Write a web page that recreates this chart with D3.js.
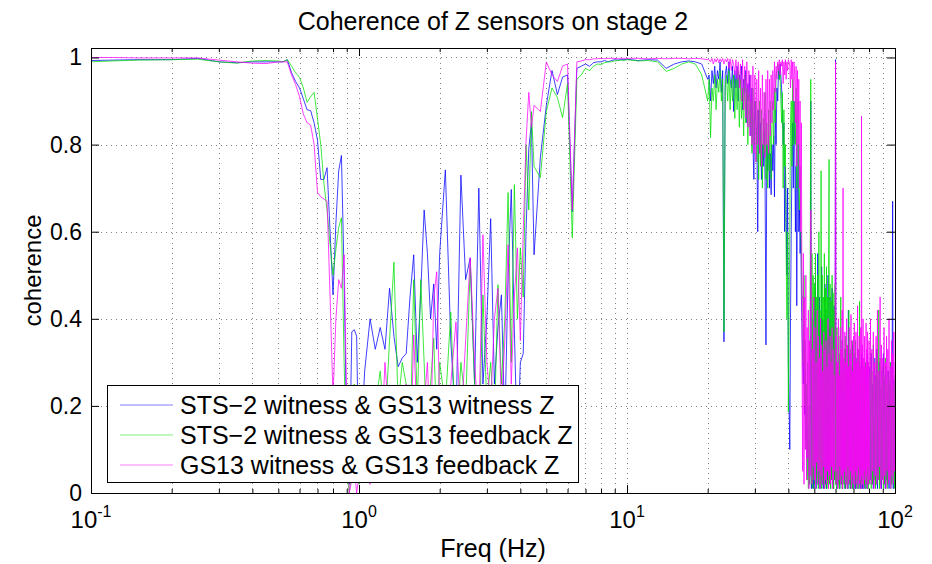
<!DOCTYPE html>
<html>
<head>
<meta charset="utf-8">
<script src="https://cdn.jsdelivr.net/npm/d3@7"></script>
<style>
  body { margin: 0; background: #fff; }
  svg { display: block; font-family: "Liberation Sans", Arial, Helvetica, sans-serif; }
</style>
</head>
<body>
<svg width="932" height="564"></svg>
<script>
  // frequency bins (Hz), shared by the three coherence curves
  const freq = [
    0.1, 0.12, 0.15, 0.2, 0.25, 0.3, 0.35, 0.4, 0.45, 0.5,
    0.52, 0.54, 0.56, 0.58, 0.6, 0.62, 0.64, 0.66, 0.68, 0.7, 0.72, 0.74, 0.76, 0.78, 0.8,
    0.82, 0.84, 0.86, 0.88, 0.9, 0.92, 0.94, 0.96, 0.98, 1,
    1.05, 1.1, 1.15, 1.2, 1.25, 1.3, 1.35, 1.4, 1.45, 1.5, 1.55, 1.6, 1.65, 1.7, 1.75, 1.8, 1.85, 1.9, 1.95, 2,
    2.1, 2.2, 2.3, 2.4, 2.5, 2.6, 2.7, 2.8, 2.9, 3, 3.1, 3.2, 3.3, 3.4, 3.5, 3.6, 3.7, 3.8, 3.9, 4,
    4.1, 4.2, 4.3, 4.4, 4.5,
    4.75, 5, 5.25, 5.5, 5.75, 6, 6.25, 6.5, 6.75, 7, 7.25, 7.5, 7.75, 8, 8.25, 8.5, 8.75, 9, 9.25, 9.5, 9.75, 10,
    11, 12, 13, 14, 15, 16, 17, 18, 19, 20,
    20.25, 20.5, 20.75, 21, 21.25, 21.5, 21.75, 22, 22.25, 22.5, 22.75, 23, 23.25, 23.5, 23.75, 24, 24.25, 24.5, 24.75, 25,
    25.25, 25.5, 25.75, 26, 26.25, 26.5, 26.75, 27, 27.25, 27.5, 27.75, 28, 28.25, 28.5, 28.75, 29, 29.25, 29.5, 29.75, 30,
    30.25, 30.5, 30.75, 31, 31.25, 31.5, 31.75, 32, 32.25, 32.5, 32.75, 33, 33.25, 33.5, 33.75, 34, 34.25, 34.5, 34.75, 35,
    35.25, 35.5, 35.75, 36, 36.25, 36.5, 36.75, 37, 37.25, 37.5, 37.75, 38, 38.25, 38.5, 38.75, 39, 39.25, 39.5, 39.75, 40,
    40.25, 40.5, 40.75, 41, 41.25, 41.5, 41.75, 42, 42.25, 42.5, 42.75, 43, 43.25, 43.5, 43.75, 44, 44.25, 44.5, 44.75, 45,
    45.25, 45.5, 45.75, 46, 46.25, 46.5, 46.75, 47, 47.25, 47.5, 47.75, 48, 48.25, 48.5, 48.75, 49, 49.25, 49.5, 49.75, 50,
    50.25, 50.5, 50.75, 51, 51.25, 51.5, 51.75, 52, 52.25, 52.5, 52.75, 53, 53.25, 53.5, 53.75, 54, 54.25, 54.5, 54.75, 55,
    55.25, 55.5, 55.75, 56, 56.25, 56.5, 56.75, 57, 57.25, 57.5, 57.75, 58, 58.25, 58.5, 58.75, 59, 59.25, 59.5, 59.75, 60,
    60.25, 60.5, 60.75, 61, 61.25, 61.5, 61.75, 62, 62.25, 62.5, 62.75, 63, 63.25, 63.5, 63.75, 64, 64.25, 64.5, 64.75, 65,
    65.25, 65.5, 65.75, 66, 66.25, 66.5, 66.75, 67, 67.25, 67.5, 67.75, 68, 68.25, 68.5, 68.75, 69, 69.25, 69.5, 69.75, 70,
    70.25, 70.5, 70.75, 71, 71.25, 71.5, 71.75, 72, 72.25, 72.5, 72.75, 73, 73.25, 73.5, 73.75, 74, 74.25, 74.5, 74.75, 75,
    75.25, 75.5, 75.75, 76, 76.25, 76.5, 76.75, 77, 77.25, 77.5, 77.75, 78, 78.25, 78.5, 78.75, 79, 79.25, 79.5, 79.75, 80,
    80.5, 81, 81.5, 82, 82.5, 83, 83.5, 84, 84.5, 85, 85.5, 86, 86.5, 87, 87.5, 88, 88.5, 89, 89.5, 90,
    90.5, 91, 91.5, 92, 92.5, 93, 93.5, 94, 94.5, 95, 95.5, 96, 96.5, 97, 97.5, 98, 98.5, 99, 99.5, 100
  ];

  // STS-2 witness & GS13 witness Z
  const stsWitness = [
    0.993, 0.994, 0.995, 0.995, 0.998, 0.99, 0.988, 0.99, 0.99, 0.99,
    0.99, 0.995, 0.965, 0.945, 0.93, 0.905, 0.88, 0.878, 0.85, 0.81, 0.72, 0.72, 0.747, 0.6, 0.455,
    0.62, 0.74, 0.775, 0.5, 0.12, 0.02, 0.37, 0.375, 0.36, 0.03,
    0.28, 0.4, 0.33, 0.38, 0.33, 0.47, 0.36, 0.29, 0.31, 0.32, 0.45, 0.547, 0.3, 0.46, 0.65, 0.55, 0.4, 0.48, 0.33, 0.55,
    0.742, 0.35, 0.15, 0.73, 0.49, 0.54, 0.25, 0.7, 0.25, 0.4, 0.63, 0.25, 0.38, 0.455, 0.15, 0.5, 0.697, 0.37, 0.1, 0.3,
    0.32, 0.6, 0.79, 0.85, 0.547,
    0.77, 0.89, 0.97, 0.915, 0.955, 0.96, 0.646, 0.975, 0.98, 0.985, 0.98, 0.988, 0.99, 0.99, 0.993, 0.99, 0.993, 0.995, 0.994, 0.995, 0.995, 0.996,
    0.993, 0.995, 0.994, 0.975, 0.985, 0.99, 0.992, 0.99, 0.985, 0.95,
    0.96, 0.9, 0.97, 0.94, 0.98, 0.93, 0.97, 0.95, 0.99, 0.92, 0.97, 0.347, 0.96, 0.98, 0.94, 0.99, 0.95, 0.93, 0.98, 0.876,
    0.97, 0.93, 0.98, 0.9, 0.96, 0.94, 0.98, 0.88, 0.95, 0.92, 0.97, 0.85, 0.94, 0.9, 0.96, 0.82, 0.93, 0.8, 0.72, 0.9,
    0.85, 0.82, 0.6, 0.88, 0.78, 0.85, 0.72, 0.8, 0.75, 0.83, 0.72, 0.34, 0.8, 0.74, 0.82, 0.7, 0.78, 0.685, 0.8, 0.74,
    0.82, 0.68, 0.88, 0.8, 0.93, 0.9, 0.97, 0.95, 0.985, 0.96, 0.93, 0.88, 0.8, 0.85, 0.6, 0.75, 0.65, 0.5, 0.7, 0.3,
    0.2, 0.1, 0.4, 0.6, 0.75, 0.85, 0.7, 0.9, 0.8, 0.6, 0.75, 0.43, 0.7, 0.8, 0.6, 0.65, 0.55, 0.6, 0.45, 0.37,
    0.3, 0.25, 0.35, 0.18, 0.28, 0.12, 0.22, 0.08, 0.15, 0.04, 0.1, 0.02, 0.06, 0.9, 0.01, 0.3, 0.02, 0.4, 0.01, 0.45,
    0.02, 0.5, 0.01, 0.35, 0.04, 0.55, 0.02, 0.3, 0.45, 0.01, 0.38, 0.03, 0.52, 0.02, 0.4, 0.01, 0.33, 0.05, 0.48, 0.02,
    0.42, 0.01, 0.35, 0.03, 0.5, 0.02, 0.38, 0.04, 0.45, 0.01, 0.32, 0.03, 0.47, 0.02, 0.36, 0.01, 0.43, 0.03, 0.3, 0.995,
    0.02, 0.32, 0.01, 0.26, 0.03, 0.34, 0.02, 0.28, 0.01, 0.3, 0.03, 0.25, 0.02, 0.35, 0.01, 0.27, 0.04, 0.31, 0.02, 0.28,
    0.01, 0.33, 0.03, 0.26, 0.02, 0.3, 0.01, 0.42, 0.03, 0.27, 0.02, 0.32, 0.01, 0.25, 0.03, 0.29, 0.02, 0.34, 0.01, 0.28,
    0.03, 0.32, 0.02, 0.25, 0.01, 0.31, 0.03, 0.27, 0.02, 0.33, 0.01, 0.26, 0.03, 0.3, 0.02, 0.24, 0.01, 0.28, 0.03, 0.32,
    0.02, 0.26, 0.01, 0.29, 0.03, 0.23, 0.02, 0.28, 0.01, 0.25, 0.03, 0.3, 0.02, 0.27, 0.01, 0.32, 0.03, 0.26, 0.02, 0.29,
    0.28, 0.03, 0.32, 0.02, 0.25, 0.01, 0.31, 0.03, 0.27, 0.02, 0.33, 0.01, 0.26, 0.03, 0.3, 0.02, 0.24, 0.01, 0.28, 0.03,
    0.32, 0.02, 0.26, 0.01, 0.29, 0.03, 0.23, 0.02, 0.28, 0.01, 0.25, 0.03, 0.3, 0.02, 0.23, 0.67, 0.01, 0.26, 0.02, 0.21
  ];

  // STS-2 witness & GS13 feedback Z
  const stsFeedback = [
    0.99, 0.992, 0.994, 0.995, 0.996, 0.99, 0.987, 0.992, 0.993, 0.992,
    0.99, 0.995, 0.98, 0.965, 0.954, 0.93, 0.897, 0.91, 0.92, 0.86, 0.8, 0.71, 0.65, 0.57, 0.5,
    0.56, 0.61, 0.632, 0.3, 0.05, 0, 0.05, 0.25, 0.1, 0.02,
    0.1, 0.05, 0.2, 0.28, 0.15, 0.35, 0.53, 0.2, 0.3, 0.25, 0.1, 0.49, 0.2, 0.49, 0.3, 0.1, 0.25, 0.356, 0.15, 0.3,
    0.2, 0.415, 0.1, 0.3, 0.2, 0.524, 0.25, 0.1, 0.455, 0.2, 0.3, 0.15, 0.478, 0.25, 0.4, 0.69, 0.3, 0.708, 0.4, 0.563,
    0.45, 0.8, 0.65, 0.876, 0.75,
    0.724, 0.876, 0.93, 0.908, 0.862, 0.94, 0.586, 0.95, 0.96, 0.975, 0.97, 0.98, 0.985, 0.984, 0.988, 0.99, 0.99, 0.992, 0.993, 0.994, 0.993, 0.995,
    0.992, 0.993, 0.99, 0.968, 0.975, 0.985, 0.99, 0.985, 0.96, 0.9,
    0.95, 0.816, 0.93, 0.9, 0.96, 0.88, 0.95, 0.92, 0.97, 0.9, 0.95, 0.37, 0.93, 0.96, 0.9, 0.97, 0.88, 0.95, 0.9, 0.96,
    0.86, 0.95, 0.88, 0.97, 0.84, 0.95, 0.86, 0.93, 0.82, 0.96, 0.85, 0.93, 0.8, 0.92, 0.84, 0.9, 0.78, 0.93, 0.8, 0.88,
    0.9, 0.76, 0.88, 0.72, 0.9, 0.75, 0.88, 0.7, 0.86, 0.78, 0.92, 0.72, 0.85, 0.7, 0.88, 0.74, 0.9, 0.72, 0.86, 0.9,
    0.8, 0.93, 0.85, 0.96, 0.97, 0.985, 0.98, 0.95, 0.96, 0.9, 0.85, 0.92, 0.7, 0.88, 0.75, 0.8, 0.55, 0.4, 0.6, 0.186,
    0.4, 0.6, 0.85, 0.9, 0.75, 0.95, 0.8, 0.9, 0.85, 0.8, 0.93, 0.7, 0.85, 0.9, 0.7, 0.65, 0.75, 0.6, 0.55, 0.45,
    0.45, 0.3, 0.5, 0.2, 0.35, 0.1, 0.25, 0.03, 0.3, 0.01, 0.2, 0.02, 0.5, 0.95, 0.02, 0.55, 0.01, 0.5, 0.03, 0.48,
    0.01, 0.55, 0.03, 0.45, 0.02, 0.5, 0.01, 0.6, 0.03, 0.42, 0.02, 0.74, 0.01, 0.5, 0.03, 0.45, 0.02, 0.55, 0.01, 0.47,
    0.03, 0.52, 0.01, 0.45, 0.02, 0.5, 0.766, 0.02, 0.48, 0.01, 0.44, 0.03, 0.5, 0.02, 0.46, 0.01, 0.42, 0.03, 0.48, 0.02,
    0.34, 0.01, 0.38, 0.03, 0.3, 0.02, 0.36, 0.01, 0.32, 0.03, 0.45, 0.02, 0.28, 0.01, 0.35, 0.03, 0.31, 0.02, 0.33, 0.01,
    0.36, 0.03, 0.28, 0.02, 0.34, 0.01, 0.31, 0.03, 0.42, 0.02, 0.29, 0.01, 0.33, 0.03, 0.27, 0.02, 0.35, 0.01, 0.3, 0.03,
    0.32, 0.01, 0.28, 0.02, 0.35, 0.03, 0.26, 0.01, 0.31, 0.02, 0.33, 0.03, 0.28, 0.01, 0.44, 0.02, 0.25, 0.03, 0.29, 0.01,
    0.27, 0.02, 0.31, 0.03, 0.25, 0.01, 0.29, 0.02, 0.26, 0.03, 0.3, 0.01, 0.24, 0.02, 0.28, 0.03, 0.26, 0.01, 0.27, 0.02,
    0.03, 0.32, 0.01, 0.28, 0.02, 0.34, 0.03, 0.26, 0.01, 0.31, 0.02, 0.33, 0.03, 0.42, 0.01, 0.31, 0.02, 0.25, 0.03, 0.29,
    0.01, 0.27, 0.02, 0.31, 0.03, 0.25, 0.01, 0.28, 0.02, 0.26, 0.03, 0.3, 0.01, 0.24, 0.02, 0.28, 0.03, 0.25, 0.01, 0.27
  ];

  // GS13 witness & GS13 feedback Z
  const gsFeedback = [
    1, 1, 0.999, 0.999, 0.999, 0.994, 0.99, 0.987, 0.986, 0.99,
    0.99, 0.99, 0.96, 0.938, 0.91, 0.87, 0.85, 0.845, 0.8, 0.69, 0.68, 0.675, 0.67, 0.45, 0.22,
    0.4, 0.49, 0.47, 0.547, 0.2, 0, 0.03, 0.06, 0, 0.04,
    0.05, 0.02, 0.1, 0.05, 0.3, 0.15, 0.05, 0.2, 0.1, 0.25, 0.05, 0.363, 0.15, 0.05, 0.2, 0.3, 0.1, 0.45, 0.508, 0.2,
    0.1, 0.25, 0.393, 0.15, 0.35, 0.54, 0.3, 0.15, 0.593, 0.3, 0.2, 0.4, 0.47, 0.2, 0.35, 0.57, 0.25, 0.45, 0.563, 0.35,
    0.6, 0.807, 0.92, 0.84, 0.89,
    0.876, 0.99, 0.96, 0.945, 0.98, 0.985, 0.65, 0.99, 0.992, 0.995, 0.995, 0.997, 0.997, 0.998, 0.997, 0.998, 0.998, 0.998, 0.997, 0.998, 0.998, 0.998,
    0.998, 0.997, 0.998, 0.997, 0.998, 0.998, 0.997, 0.998, 0.997, 0.995,
    0.995, 0.99, 0.998, 0.985, 0.997, 0.99, 0.998, 0.988, 0.997, 0.99, 0.998, 0.985, 0.996, 0.99, 0.998, 0.975, 0.997, 0.97, 0.995, 0.985,
    0.96, 0.995, 0.95, 0.99, 0.93, 0.985, 0.9, 0.995, 0.88, 0.98, 0.86, 0.99, 0.84, 0.97, 0.82, 0.96, 0.8, 0.98, 0.78, 0.96,
    0.76, 0.95, 0.8, 0.97, 0.78, 0.93, 0.75, 0.96, 0.8, 0.92, 0.77, 0.95, 0.8, 0.97, 0.78, 0.95, 0.82, 0.96, 0.85, 0.97,
    0.88, 0.99, 0.92, 0.98, 0.95, 0.99, 0.97, 0.995, 0.96, 0.99, 0.98, 0.995, 0.94, 0.99, 0.96, 0.995, 0.95, 0.99, 0.97, 0.995,
    0.99, 0.98, 0.93, 0.995, 0.95, 0.99, 0.9, 0.99, 0.96, 0.85, 0.98, 0.75, 0.97, 0.8, 0.95, 0.7, 0.9, 0.6, 0.85, 0.3,
    0.05, 0.55, 0.02, 0.45, 0.1, 0.5, 0.03, 0.38, 0.08, 0.42, 0.01, 0.35, 0.04, 0.65, 0.4, 0.02, 0.33, 0.06, 0.45, 0.03,
    0.38, 0.01, 0.3, 0.07, 0.42, 0.02, 0.36, 0.05, 0.31, 0.01, 0.4, 0.04, 0.34, 0.02, 0.28, 0.06, 0.37, 0.01, 0.33, 0.03,
    0.35, 0.02, 0.29, 0.05, 0.4, 0.01, 0.32, 0.04, 0.36, 0.02, 0.3, 0.06, 0.38, 0.01, 0.33, 0.03, 0.27, 0.05, 0.35, 0.99,
    0.02, 0.36, 0.05, 0.3, 0.01, 0.4, 0.03, 0.27, 0.06, 0.38, 0.02, 0.33, 0.04, 0.42, 0.01, 0.7, 0.03, 0.31, 0.05, 0.37,
    0.02, 0.3, 0.04, 0.4, 0.01, 0.34, 0.06, 0.29, 0.02, 0.38, 0.03, 0.32, 0.05, 0.41, 0.01, 0.35, 0.04, 0.28, 0.02, 0.36,
    0.03, 0.39, 0.01, 0.31, 0.05, 0.37, 0.02, 0.3, 0.04, 0.43, 0.01, 0.33, 0.06, 0.36, 0.02, 0.29, 0.03, 0.38, 0.01, 0.865,
    0.04, 0.34, 0.02, 0.4, 0.01, 0.31, 0.05, 0.36, 0.03, 0.29, 0.02, 0.39, 0.04, 0.33, 0.01, 0.37, 0.06, 0.3, 0.02, 0.35,
    0.03, 0.4, 0.02, 0.33, 0.05, 0.37, 0.01, 0.3, 0.04, 0.36, 0.02, 0.42, 0.03, 0.28, 0.06, 0.45, 0.01, 0.34, 0.03, 0.31,
    0.02, 0.38, 0.04, 0.3, 0.01, 0.36, 0.05, 0.33, 0.02, 0.4, 0.03, 0.29, 0.01, 0.35, 0.04, 0.32, 0.02, 0.37, 0.05, 0.3
  ];

  const seriesNames = [
    "STS\u22122 witness & GS13 witness Z",
    "STS\u22122 witness & GS13 feedback Z",
    "GS13 witness & GS13 feedback Z"
  ];
  const xDecades = [0.1, 1, 10, 100];
  const xDecadeExponents = ["-1", "0", "1", "2"];
  const yTicks = [0, 0.2, 0.4, 0.6, 0.8, 1];
  const yTickLabels = ["0", "0.2", "0.4", "0.6", "0.8", "1"];

  const colors = ["#0000ff", "#00e000", "#ff00ff"];

  const svg = d3.select("svg");
  const plotLeft = 91;
  const plotRight = 895;
  const plotTop = 48;
  const plotBottom = 493;

  const x = d3.scaleLog().domain([0.1, 100]).range([plotLeft, plotRight]);
  const y = d3.scaleLinear().domain([0, 1.0218]).range([plotBottom, plotTop]);

  // minor log ticks 2..9 inside each decade
  const xMinor = [];
  xDecades.slice(0, 3).forEach(d => {
    for (let k = 2; k <= 9; k++) xMinor.push(d * k);
  });

  svg.append("rect")
    .attr("width", 932)
    .attr("height", 564)
    .attr("fill", "#fff");

  svg.append("defs")
    .append("clipPath")
    .attr("id", "plotClip")
    .append("rect")
    .attr("x", plotLeft)
    .attr("y", plotTop)
    .attr("width", plotRight - plotLeft)
    .attr("height", plotBottom - plotTop);

  // dotted grid
  const grid = svg.append("g")
    .attr("stroke", "#808080")
    .attr("stroke-width", 1)
    .attr("stroke-dasharray", "1,4");
  grid.selectAll("line.vx")
    .data(xMinor.concat([1, 10]))
    .join("line")
    .attr("class", "vx")
    .attr("x1", d => Math.round(x(d)) + 0.5)
    .attr("x2", d => Math.round(x(d)) + 0.5)
    .attr("y1", plotTop)
    .attr("y2", plotBottom);
  grid.selectAll("line.hy")
    .data(yTicks.slice(1))
    .join("line")
    .attr("class", "hy")
    .attr("x1", plotLeft)
    .attr("x2", plotRight)
    .attr("y1", d => Math.round(y(d)) + 0.5)
    .attr("y2", d => Math.round(y(d)) + 0.5);

  // coherence curves: thin opaque lines, magenta drawn last on top
  const line = d3.line()
    .x(d => x(d[0]))
    .y(d => y(d[1]));
  const curves = svg.append("g").attr("clip-path", "url(#plotClip)");
  [stsWitness, stsFeedback, gsFeedback].forEach((vals, i) => {
    curves.append("path")
      .attr("d", line(d3.zip(freq, vals)))
      .attr("fill", "none")
      .attr("stroke", colors[i])
      .attr("stroke-width", 0.75);
  });

  // axes: ticks point inward on all four sides
  const axisG = svg.append("g");
  axisG.append("g")
    .attr("transform", `translate(0,${plotBottom})`)
    .call(d3.axisBottom(x).tickValues(xDecades).tickSizeInner(-8).tickSizeOuter(0).tickFormat(""));
  axisG.append("g")
    .attr("transform", `translate(0,${plotBottom})`)
    .call(d3.axisBottom(x).tickValues(xMinor).tickSizeInner(-4).tickSizeOuter(0).tickFormat(""));
  axisG.append("g")
    .attr("transform", `translate(0,${plotTop})`)
    .call(d3.axisTop(x).tickValues(xDecades).tickSizeInner(-8).tickSizeOuter(0).tickFormat(""));
  axisG.append("g")
    .attr("transform", `translate(0,${plotTop})`)
    .call(d3.axisTop(x).tickValues(xMinor).tickSizeInner(-4).tickSizeOuter(0).tickFormat(""));
  axisG.append("g")
    .attr("transform", `translate(${plotLeft},0)`)
    .call(d3.axisLeft(y).tickValues(yTicks).tickSizeInner(-8).tickSizeOuter(0).tickFormat(""));
  axisG.append("g")
    .attr("transform", `translate(${plotRight},0)`)
    .call(d3.axisRight(y).tickValues(yTicks).tickSizeInner(-8).tickSizeOuter(0).tickFormat(""));
  axisG.selectAll(".domain").remove();
  axisG.selectAll(".tick line").attr("stroke", "#000");

  svg.append("rect")
    .attr("x", plotLeft + 0.5)
    .attr("y", plotTop + 0.5)
    .attr("width", plotRight - plotLeft)
    .attr("height", plotBottom - plotTop)
    .attr("fill", "none")
    .attr("stroke", "#000")
    .attr("stroke-width", 1);

  // tick labels
  svg.append("g")
    .selectAll("text")
    .data(yTicks)
    .join("text")
    .attr("x", plotLeft - 9)
    .attr("y", d => y(d) + 8)
    .attr("text-anchor", "end")
    .attr("font-size", 23)
    .text((d, i) => yTickLabels[i]);

  const xLabels = svg.append("g")
    .selectAll("text")
    .data(xDecades)
    .join("text")
    .attr("x", d => x(d))
    .attr("y", 528)
    .attr("text-anchor", "middle")
    .attr("font-size", 24);
  xLabels.append("tspan").text("10");
  xLabels.append("tspan")
    .attr("dy", -11)
    .attr("font-size", 16)
    .text((d, i) => xDecadeExponents[i]);

  svg.append("text")
    .attr("x", (plotLeft + plotRight) / 2)
    .attr("y", 557)
    .attr("text-anchor", "middle")
    .attr("font-size", 25)
    .text("Freq (Hz)");

  svg.append("text")
    .attr("transform", `translate(41,${(plotTop + plotBottom) / 2}) rotate(-90)`)
    .attr("text-anchor", "middle")
    .attr("font-size", 24)
    .text("coherence");

  svg.append("text")
    .attr("x", (plotLeft + plotRight) / 2)
    .attr("y", 30)
    .attr("text-anchor", "middle")
    .attr("font-size", 25)
    .text("Coherence of Z sensors on stage 2");

  // legend
  const legend = svg.append("g");
  legend.append("rect")
    .attr("x", 107.5)
    .attr("y", 385.5)
    .attr("width", 471)
    .attr("height", 97)
    .attr("fill", "#fff")
    .attr("stroke", "#000")
    .attr("stroke-width", 1);
  const rows = legend.selectAll("g.row")
    .data(seriesNames)
    .join("g")
    .attr("class", "row")
    .attr("transform", (d, i) => `translate(0,${405 + i * 30})`);
  rows.append("line")
    .attr("x1", 120)
    .attr("x2", 173)
    .attr("stroke", (d, i) => colors[i])
    .attr("stroke-opacity", 0.5)
    .attr("stroke-width", 1);
  rows.append("text")
    .attr("x", 180)
    .attr("y", 9)
    .attr("font-size", 25)
    .text(d => d);
</script>
</body>
</html>
